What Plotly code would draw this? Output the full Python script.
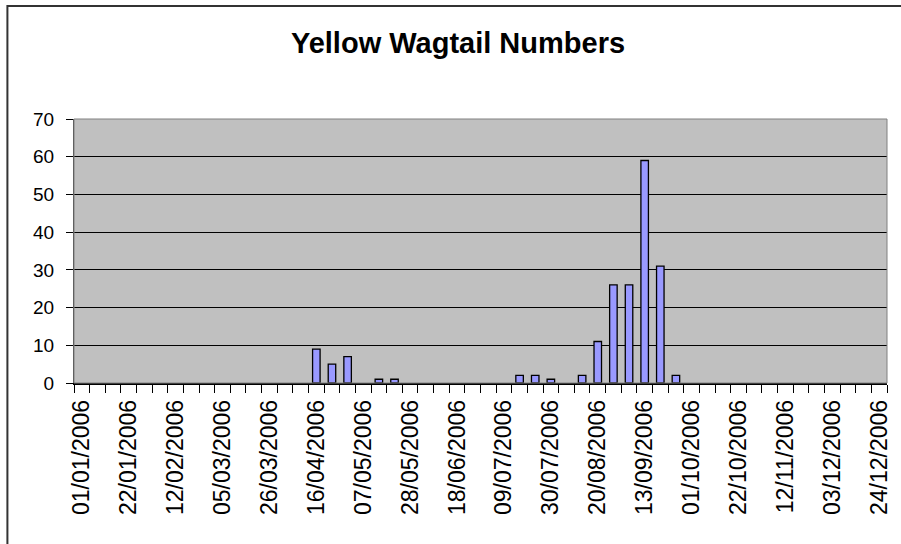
import datetime as dt
import plotly.graph_objects as go

# ---- data ----
start = dt.date(2006, 1, 1)
week_dates = [(start + dt.timedelta(days=7 * i)).strftime("%d/%m/%Y") for i in range(52)]
week_dates[36] = "13/09/2006"  # as labelled in the source

counts_by_date = {
    "16/04/2006": 9, "23/04/2006": 5, "30/04/2006": 7,
    "14/05/2006": 1, "21/05/2006": 1,
    "16/07/2006": 2, "23/07/2006": 2, "30/07/2006": 1,
    "13/08/2006": 2, "20/08/2006": 11, "27/08/2006": 26,
    "03/09/2006": 26, "13/09/2006": 59, "17/09/2006": 31,
    "24/09/2006": 2,
}
counts = [counts_by_date.get(d) for d in week_dates]  # None = no birds recorded
tick_text = [d if i % 3 == 0 else "" for i, d in enumerate(week_dates)]
y_ticks = list(range(0, 71, 10))

FONT = "Liberation Sans, Arial, sans-serif"

fig = go.Figure(go.Bar(
    x=week_dates, y=counts,
    marker=dict(color="#9999FF", line=dict(color="black", width=1.3)),
))

W, H = 901, 544
L, R, T, B = 74, 892, 119, 383
pw, ph = R - L, B - T

fig.update_layout(
    width=W, height=H,
    margin=dict(l=L, r=W - R, t=T, b=H - B),
    paper_bgcolor="white", plot_bgcolor="#C0C0C0",
    bargap=0.52, showlegend=False,
    font=dict(family=FONT, color="black"),
    title=dict(text="<b>Yellow Wagtail Numbers</b>", font=dict(size=29, family=FONT, color="black"),
               x=458 / W, xref="container", xanchor="center",
               y=1 - 43 / H, yref="container", yanchor="middle"),
    shapes=[
        dict(type="rect", xref="paper", yref="paper", x0=0, x1=1, y0=0, y1=1,
             line=dict(color="#808080", width=1), layer="above"),
        dict(type="rect", xref="paper", yref="paper",
             x0=(7 - L) / pw, x1=(W + 10 - L) / pw,
             y0=(B - (H + 10)) / ph, y1=(B - 6) / ph,
             line=dict(color="#333333", width=2), fillcolor="rgba(0,0,0,0)", layer="below"),
    ],
)

fig.update_xaxes(
    type="category", categoryorder="array", categoryarray=week_dates,
    tickmode="array", tickvals=week_dates, ticktext=tick_text,
    tickson="boundaries", ticks="outside", ticklen=8, tickwidth=1, tickcolor="black",
    tickangle=-90, tickfont=dict(size=23, family=FONT, color="black"),
    ticklabelstandoff=6,
    showline=True, linecolor="black", linewidth=1.5,
    showgrid=False, zeroline=False,
)
fig.update_yaxes(
    range=[0, 70], tickmode="array", tickvals=y_ticks,
    ticks="outside", ticklen=7, tickwidth=1, tickcolor="black",
    tickfont=dict(size=19, family=FONT, color="black"),
    ticklabelstandoff=8,
    showline=True, linecolor="#404040", linewidth=1,
    showgrid=True, gridcolor="black", gridwidth=1,
    zeroline=False,
)

fig.write_html("out.html", config={"displayModeBar": False},
               post_script="document.body.style.margin='0';document.body.style.padding='0';")
